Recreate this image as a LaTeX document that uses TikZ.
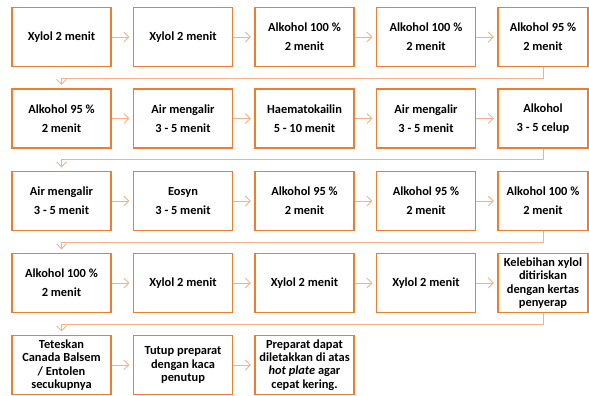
\documentclass[tikz,border=0pt]{standalone}
\usepackage{fontspec}
\setmainfont{Carlito}
\usetikzlibrary{arrows.meta}
\definecolor{oranye}{HTML}{ED7D31}
\definecolor{oranyemuda}{HTML}{F4B183}
\tikzset{
	langkah/.style={draw=oranye, line width=1.3pt, minimum width=99pt, minimum height=59pt,
		align=center, inner sep=1pt, font=\fontsize{12.4}{13.3}\selectfont\bfseries},
	ujung/.style={langkah, minimum width=90pt},
	panah/.style={draw=oranyemuda, line width=0.8pt, shorten >=3.5pt,
		-{Straight Barb[length=5pt,width=10pt]}}
}
\begin{document}
\begin{tikzpicture}[x=1pt,y=-1pt]
		\useasboundingbox (0,0) rectangle (589,396);

		% Baris 1
		\node[langkah] (a1) at (61.5,37) {Xylol 2 menit};
		\node[langkah] (a2) at (183,37) {Xylol 2 menit};
		\node[langkah] (a3) at (304.5,37) {Alkohol 100 \%\\[5.7pt]2 menit};
		\node[langkah] (a4) at (426,37) {Alkohol 100 \%\\[5.7pt]2 menit};
		\node[ujung] (a5) at (543,37) {Alkohol 95 \%\\[5.7pt]2 menit};

		% Baris 2
		\node[langkah] (b1) at (61.5,118.5) {Alkohol 95 \%\\[5.7pt]2 menit};
		\node[langkah] (b2) at (183,118.5) {Air mengalir\\[5.7pt]3 - 5 menit};
		\node[langkah] (b3) at (304.5,118.5) {Haematokailin\\[5.7pt]5 - 10 menit};
		\node[langkah] (b4) at (426,118.5) {Air mengalir\\[5.7pt]3 - 5 menit};
		\node[ujung] (b5) at (543,118.5) {Alkohol\\[5.7pt]3 - 5 celup};

		% Baris 3
		\node[langkah] (c1) at (61.5,201) {Air mengalir\\[5.7pt]3 - 5 menit};
		\node[langkah] (c2) at (183,201) {Eosyn\\[5.7pt]3 - 5 menit};
		\node[langkah] (c3) at (304.5,201) {Alkohol 95 \%\\[5.7pt]2 menit};
		\node[langkah] (c4) at (426,201) {Alkohol 95 \%\\[5.7pt]2 menit};
		\node[ujung] (c5) at (543,201) {Alkohol 100 \%\\[5.7pt]2 menit};

		% Baris 4
		\node[langkah] (d1) at (61.5,283) {Alkohol 100 \%\\[5.7pt]2 menit};
		\node[langkah] (d2) at (183,283) {Xylol 2 menit};
		\node[langkah] (d3) at (304.5,283) {Xylol 2 menit};
		\node[langkah] (d4) at (426,283) {Xylol 2 menit};
		\node[ujung] (d5) at (543,283) {Kelebihan xylol\\ditiriskan\\dengan kertas\\penyerap};

		% Baris 5
		\node[langkah] (e1) at (61.5,365) {Teteskan\\Canada Balsem\\/ Entolen\\secukupnya};
		\node[langkah] (e2) at (183,365) {Tutup preparat\\dengan kaca\\penutup};
		\node[langkah] (e3) at (304.5,365) {Preparat dapat\\diletakkan di atas\\\textit{hot plate} agar\\cepat kering.};

		% Panah dalam baris
		\foreach \r in {a,b,c,d}{
			\draw[panah] (\r1) -- (\r2);
			\draw[panah] (\r2) -- (\r3);
			\draw[panah] (\r3) -- (\r4);
			\draw[panah] (\r4) -- (\r5);
		}
		\draw[panah] (e1) -- (e2);
		\draw[panah] (e2) -- (e3);

		% Panah antar baris
		\draw[panah] (a5.south) -- ++(0,11) -| (b1.north);
		\draw[panah] (b5.south) -- ++(0,11) -| (c1.north);
		\draw[panah] (c5.south) -- ++(0,11) -| (d1.north);
		\draw[panah] (d5.south) -- ++(0,11) -| (e1.north);
	\end{tikzpicture}
\end{document}
